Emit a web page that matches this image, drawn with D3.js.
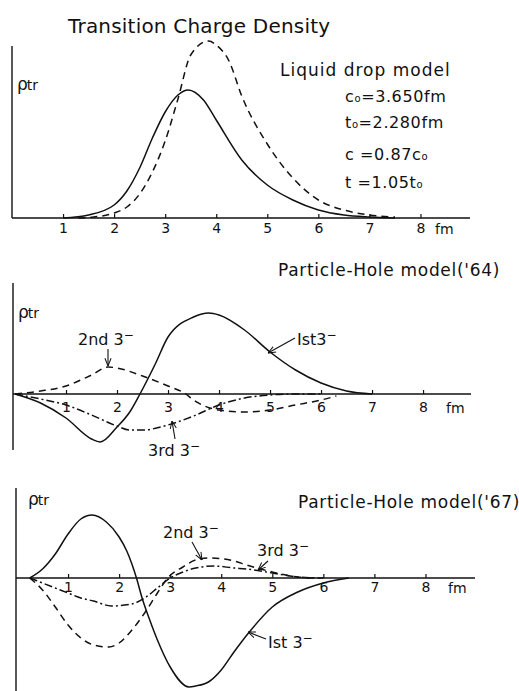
<!DOCTYPE html>
<html>
<head>
<meta charset="utf-8">
<script src="https://cdn.jsdelivr.net/npm/d3@7"></script>
<style>
  body { margin: 0; background: #fff; }
  svg { display: block; }
  text { font-family: "DejaVu Sans", sans-serif; fill: #111; }
</style>
</head>
<body>
<div id="app"></div>
<script>
// tick labels (fm)
const tickValues = [1, 2, 3, 4, 5, 6, 7, 8];

// panel 1 : liquid drop model
const ldSolidR = [1, 1.5, 2, 2.25, 2.5, 2.75, 3, 3.25, 3.45, 3.75, 4, 4.5, 5, 5.5, 6, 6.5, 7, 7.5];
const ldSolid = [0, 3, 13, 27, 50, 80, 106, 123, 128, 118, 98, 58, 33, 18, 8, 3, 1, 0];
const ldDashR = [1.3, 1.6, 2, 2.25, 2.5, 2.75, 3, 3.25, 3.5, 3.85, 4, 4.25, 4.5, 5, 5.5, 6, 6.5, 7, 7.5];
const ldDash = [0, 1, 5, 11, 24, 46, 77, 119, 163, 177, 173, 157, 122, 74, 40, 18, 8, 3, 1];

// panel 2 : particle-hole model ('64)
const p64FirstR = [0, 0.5, 1, 1.5, 1.67, 2, 2.25, 2.45, 2.75, 3, 3.5, 3.8, 4, 4.5, 5, 5.5, 6, 6.5, 7];
const p64First = [0, -9, -24, -45, -48, -33, -18, 0, 30, 57, 77, 81, 79, 64, 42, 24, 11, 3, 0];
const p64SecondR = [0, 0.5, 1, 1.5, 1.83, 2, 2.5, 3, 3.35, 3.5, 4, 4.5, 5, 5.5, 6, 6.3];
const p64Second = [0, 3, 8, 19, 27, 26, 18, 8, 0, -6, -16, -18, -16, -11, -6, -2];
const p64ThirdR = [0, 0.5, 1, 1.5, 2, 2.25, 2.5, 3, 3.5, 4, 4.5, 5, 5.5, 6];
const p64Third = [0, -5, -11, -21, -32, -36, -36, -31, -22, -11, -4, -1, 0, 0];

// panel 3 : particle-hole model ('67)
const p67FirstR = [0.25, 0.5, 0.75, 1, 1.25, 1.47, 1.75, 2, 2.15, 2.25, 2.34, 2.45, 2.6, 2.75, 3, 3.37, 3.5, 3.75, 4, 4.25, 4.55, 5, 5.5, 6, 6.5];
const p67First = [0, 9, 24, 44, 59, 63, 56, 41, 27, 14, 0, -20, -42, -62, -89, -109, -108, -104, -92, -74, -54, -29, -14, -5, 0];
const p67SecondR = [0.25, 0.5, 0.75, 1, 1.25, 1.5, 1.8, 2, 2.25, 2.5, 2.75, 2.95, 3.25, 3.5, 3.8, 4.25, 4.5, 5, 5.5, 5.8];
const p67Second = [0, -12, -29, -47, -60, -67, -69, -65, -52, -35, -15, 0, 11, 18, 20, 17, 13, 6, 1, 0];
const p67ThirdR = [0.25, 0.5, 0.75, 1, 1.25, 1.5, 1.85, 2.25, 2.5, 2.75, 3, 3.25, 3.5, 3.85, 4.25, 4.5, 5, 5.5, 6];
const p67Third = [0, -5, -10, -15, -20, -23, -28, -26, -20, -10, 0, 6, 10, 12, 10, 9, 5, 1, 0];

const W = 519, H = 691;
const svg = d3.select("#app").append("svg").attr("width", W).attr("height", H);

svg.append("defs").append("marker")
  .attr("id", "arrow")
  .attr("viewBox", "0 0 10 10")
  .attr("refX", 10).attr("refY", 5)
  .attr("markerWidth", 7).attr("markerHeight", 7)
  .attr("orient", "auto")
  .append("path")
  .attr("d", "M0,1 L10,5 L0,9")
  .attr("fill", "none")
  .attr("stroke", "#111")
  .attr("stroke-width", 1.3);

const styles = {
  solid: null,
  dash: "7,5",
  dashdot: "8,3,2,3"
};

// one panel: axes + curves
function panel(cfg) {
  const x = d3.scaleLinear().domain([0, cfg.xMax]).range([cfg.x0, cfg.xEnd]);
  const y = d3.scaleLinear().domain([cfg.yLo, cfg.yHi]).range([cfg.yBottom, cfg.yTop]);
  const g = svg.append("g");

  // y axis line
  g.append("line")
    .attr("x1", cfg.yAxisX).attr("x2", cfg.yAxisX)
    .attr("y1", cfg.yAxisTop).attr("y2", cfg.yBottom)
    .attr("stroke", "#111").attr("stroke-width", 1.4);

  const axis = d3.axisBottom(x)
    .tickValues(tickValues)
    .tickFormat(d3.format("d"))
    .tickSizeInner(-4)
    .tickSizeOuter(0)
    .tickPadding(cfg.pad);

  const ax = g.append("g")
    .attr("transform", `translate(0,${y(0)})`)
    .call(axis);
  ax.select(".domain").attr("stroke", "#111").attr("stroke-width", 1.4)
    .attr("d", `M${cfg.axisStart},0H${cfg.xEnd}`);
  ax.selectAll(".tick line").attr("stroke", "#111").attr("stroke-width", 1.2);
  ax.selectAll(".tick text")
    .style("font-family", "DejaVu Sans, sans-serif")
    .style("font-size", "14px")
    .attr("fill", "#111");

  g.append("text")
    .attr("x", cfg.fmX).attr("y", y(0) + cfg.pad + 11)
    .style("font-size", "14px")
    .text("fm");

  const line = d3.line()
    .x(d => x(d[0]))
    .y(d => y(d[1]))
    .curve(d3.curveMonotoneX);

  cfg.series.forEach(s => {
    g.append("path")
      .datum(d3.zip(s.r, s.v))
      .attr("d", line)
      .attr("fill", "none")
      .attr("stroke", "#111")
      .attr("stroke-width", 1.5)
      .attr("stroke-dasharray", styles[s.style]);
  });

  // rho_tr label
  const rho = g.append("text")
    .attr("x", cfg.rhoX).attr("y", cfg.rhoY)
    .style("font-size", "17px");
  rho.append("tspan").text("ρ");
  rho.append("tspan").attr("dx", -1).style("font-size", "14px").text("tr");

  return { x, y, g };
}

function label(txt, x, y, size, spacing) {
  return svg.append("text").attr("x", x).attr("y", y)
    .style("font-size", size + "px")
    .style("letter-spacing", (spacing || 0) + "px")
    .text(txt);
}

function stateLabel(num, x, y) {
  const t = svg.append("text").attr("x", x).attr("y", y).style("font-size", "16px");
  t.append("tspan").text(num + "3");
  t.append("tspan").attr("dy", -6).style("font-size", "12px").text("\u2212");
}

function arrow(x1, y1, x2, y2) {
  svg.append("line")
    .attr("x1", x1).attr("y1", y1).attr("x2", x2).attr("y2", y2)
    .attr("stroke", "#111").attr("stroke-width", 1.1)
    .attr("marker-end", "url(#arrow)");
}

// subscript "o" parameter lines
function paramLine(parts, x, y) {
  const t = svg.append("text").attr("x", x).attr("y", y)
    .style("font-size", "16px").style("letter-spacing", "0.6px");
  parts.forEach(p => {
    const s = t.append("tspan").text(p.t);
    if (p.sub) s.style("font-size", "10px");
  });
}

// --- panel 1
panel({
  xMax: 8.97, x0: 12, xEnd: 470, axisStart: 12, yAxisX: 12, yAxisTop: 46,
  yLo: 0, yHi: 177, yBottom: 218, yTop: 41, pad: 5, fmX: 435,
  rhoX: 17, rhoY: 90,
  series: [
    { r: ldSolidR, v: ldSolid, style: "solid" },
    { r: ldDashR, v: ldDash, style: "dash" }
  ]
});

label("Transition Charge Density", 68, 33, 20, 0.2);
label("Liquid drop model", 280, 76, 17, 1);

paramLine([{ t: "c" }, { t: "o", sub: true }, { t: "=3.650fm" }], 345, 102);
paramLine([{ t: "t" }, { t: "o", sub: true }, { t: "=2.280fm" }], 345, 128);
paramLine([{ t: "c =0.87c" }, { t: "o", sub: true }], 345, 160);
paramLine([{ t: "t =1.05t" }, { t: "o", sub: true }], 345, 188);

// --- panel 2
panel({
  xMax: 8.94, x0: 15, xEnd: 471, axisStart: 13, yAxisX: 13, yAxisTop: 283,
  yLo: -56, yHi: 111, yBottom: 450, yTop: 283, pad: 8, fmX: 446,
  rhoX: 18, rhoY: 318,
  series: [
    { r: p64FirstR, v: p64First, style: "solid" },
    { r: p64SecondR, v: p64Second, style: "dash" },
    { r: p64ThirdR, v: p64Third, style: "dashdot" }
  ]
});
label("Particle-Hole model('64)", 278, 276, 17, 0.7);
stateLabel("2nd ", 78, 345);
arrow(108, 349, 108, 366);
stateLabel("Ist", 297, 345);
arrow(295, 338, 268, 353);
stateLabel("3rd ", 148, 456);
arrow(175, 439, 172, 421);

// --- panel 3
panel({
  xMax: 8.97, x0: 17, xEnd: 475, axisStart: 16, yAxisX: 16, yAxisTop: 488,
  yLo: -113, yHi: 90, yBottom: 691, yTop: 488, pad: 4, fmX: 448,
  rhoX: 28, rhoY: 505,
  series: [
    { r: p67FirstR, v: p67First, style: "solid" },
    { r: p67SecondR, v: p67Second, style: "dash" },
    { r: p67ThirdR, v: p67Third, style: "dashdot" }
  ]
});
label("Particle-Hole model('67)", 298, 508, 17, 0.7);
stateLabel("2nd ", 163, 538);
arrow(192, 542, 202, 560);
stateLabel("3rd ", 257, 556);
arrow(268, 561, 258, 570);
stateLabel("Ist ", 268, 648);
arrow(266, 639, 248, 632);
</script>
</body>
</html>
